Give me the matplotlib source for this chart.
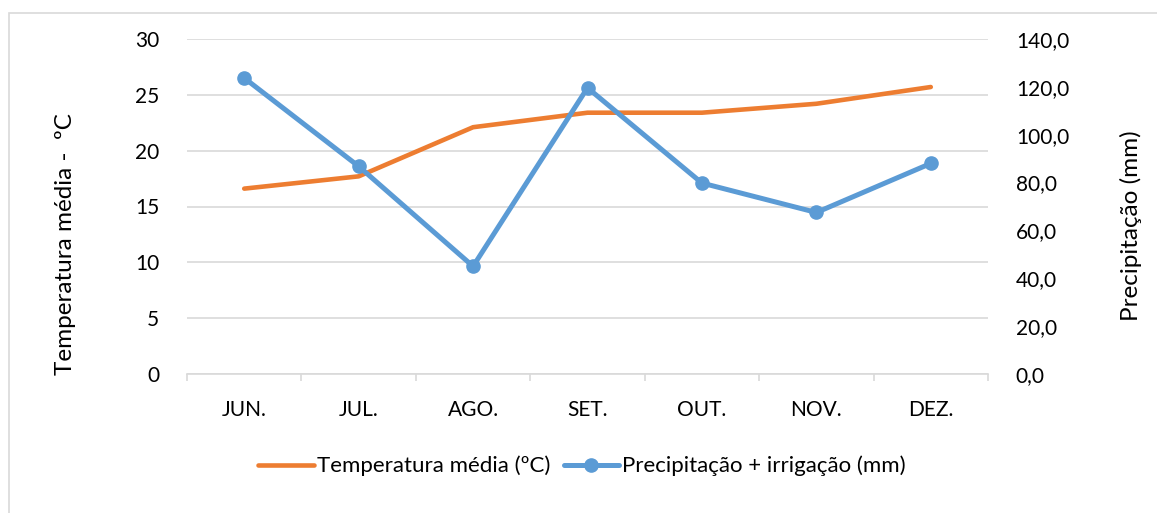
import numpy as np
import matplotlib
matplotlib.use("Agg")
import matplotlib.pyplot as plt
from matplotlib.patches import Rectangle
from matplotlib.ticker import FuncFormatter

plt.rcParams['font.family'] = ['Lato', 'DejaVu Sans']

meses = ['JUN.', 'JUL.', 'AGO.', 'SET.', 'OUT.', 'NOV.', 'DEZ.']
temperatura = [16.6, 17.7, 22.1, 23.4, 23.4, 24.2, 25.7]
precipitacao = [123.7, 86.8, 45.0, 119.6, 79.8, 67.5, 88.0]

laranja = '#ED7D31'
azul = '#5B9BD5'
cinza = '#D9D9D9'

fig = plt.figure(figsize=(11.57, 5.13), dpi=100)
# moldura do grafico (so aparecem as bordas de cima e esquerda)
fig.patches.append(Rectangle((9 / 1157, -0.05), 1.2, 1 - 13 / 513 + 0.05,
                             transform=fig.transFigure, fill=False,
                             edgecolor=cinza, lw=1.2))

ax1 = fig.add_axes([187 / 1157, 1 - 374 / 513, (988 - 187) / 1157, (374 - 39) / 513])
ax2 = ax1.twinx()

x = np.arange(len(meses))
l1, = ax1.plot(x, temperatura, color=laranja, lw=3.3, solid_capstyle='round',
               label='Temperatura média (ºC)')
l2, = ax2.plot(x, precipitacao, color=azul, lw=3.6, marker='o', ms=9.5,
               solid_capstyle='round', label='Precipitação + irrigação (mm)')

ax1.set_xlim(-0.5, len(meses) - 0.5)
ax1.set_ylim(0, 30)
ax2.set_ylim(0, 140)
ax1.set_yticks(np.arange(0, 31, 5))
ax2.set_yticks(np.arange(0, 141, 20))
ax2.yaxis.set_major_formatter(FuncFormatter(lambda v, p: f'{v:.1f}'.replace('.', ',')))

ax1.set_xticks(x)
ax1.set_xticklabels(meses)
ax1.set_xticks(np.arange(-0.5, len(meses)), minor=True)
ax1.tick_params(axis='x', which='major', length=0, pad=19, labelsize=15)
ax1.tick_params(axis='x', which='minor', length=5, color=cinza, width=1.2)
ax1.tick_params(axis='y', length=0, pad=20, labelsize=15)
ax2.tick_params(axis='y', length=0, pad=20, labelsize=15)

ax1.grid(axis='y', color=cinza, lw=1.2)
ax1.set_axisbelow(True)
for a in (ax1, ax2):
    for s in a.spines.values():
        s.set_visible(False)
ax1.spines['bottom'].set_visible(True)
ax1.spines['bottom'].set_color(cinza)
ax1.spines['bottom'].set_linewidth(1.2)

fig.text(66 / 1157, 1 - 244 / 513, 'Temperatura média -  ºC', rotation=90,
         ha='center', va='center', fontsize=17.5)
fig.text(1131 / 1157, 1 - 226 / 513, 'Precipitação (mm)', rotation=90,
         ha='center', va='center', fontsize=17.5)

fig.legend(handles=[l1, l2], loc='center', bbox_to_anchor=(582 / 1157, 1 - 466 / 513),
           ncol=2, frameon=False, fontsize=16, handlelength=2.5,
           handletextpad=0.15, columnspacing=0.6)

fig.savefig('out.png', dpi=100)
